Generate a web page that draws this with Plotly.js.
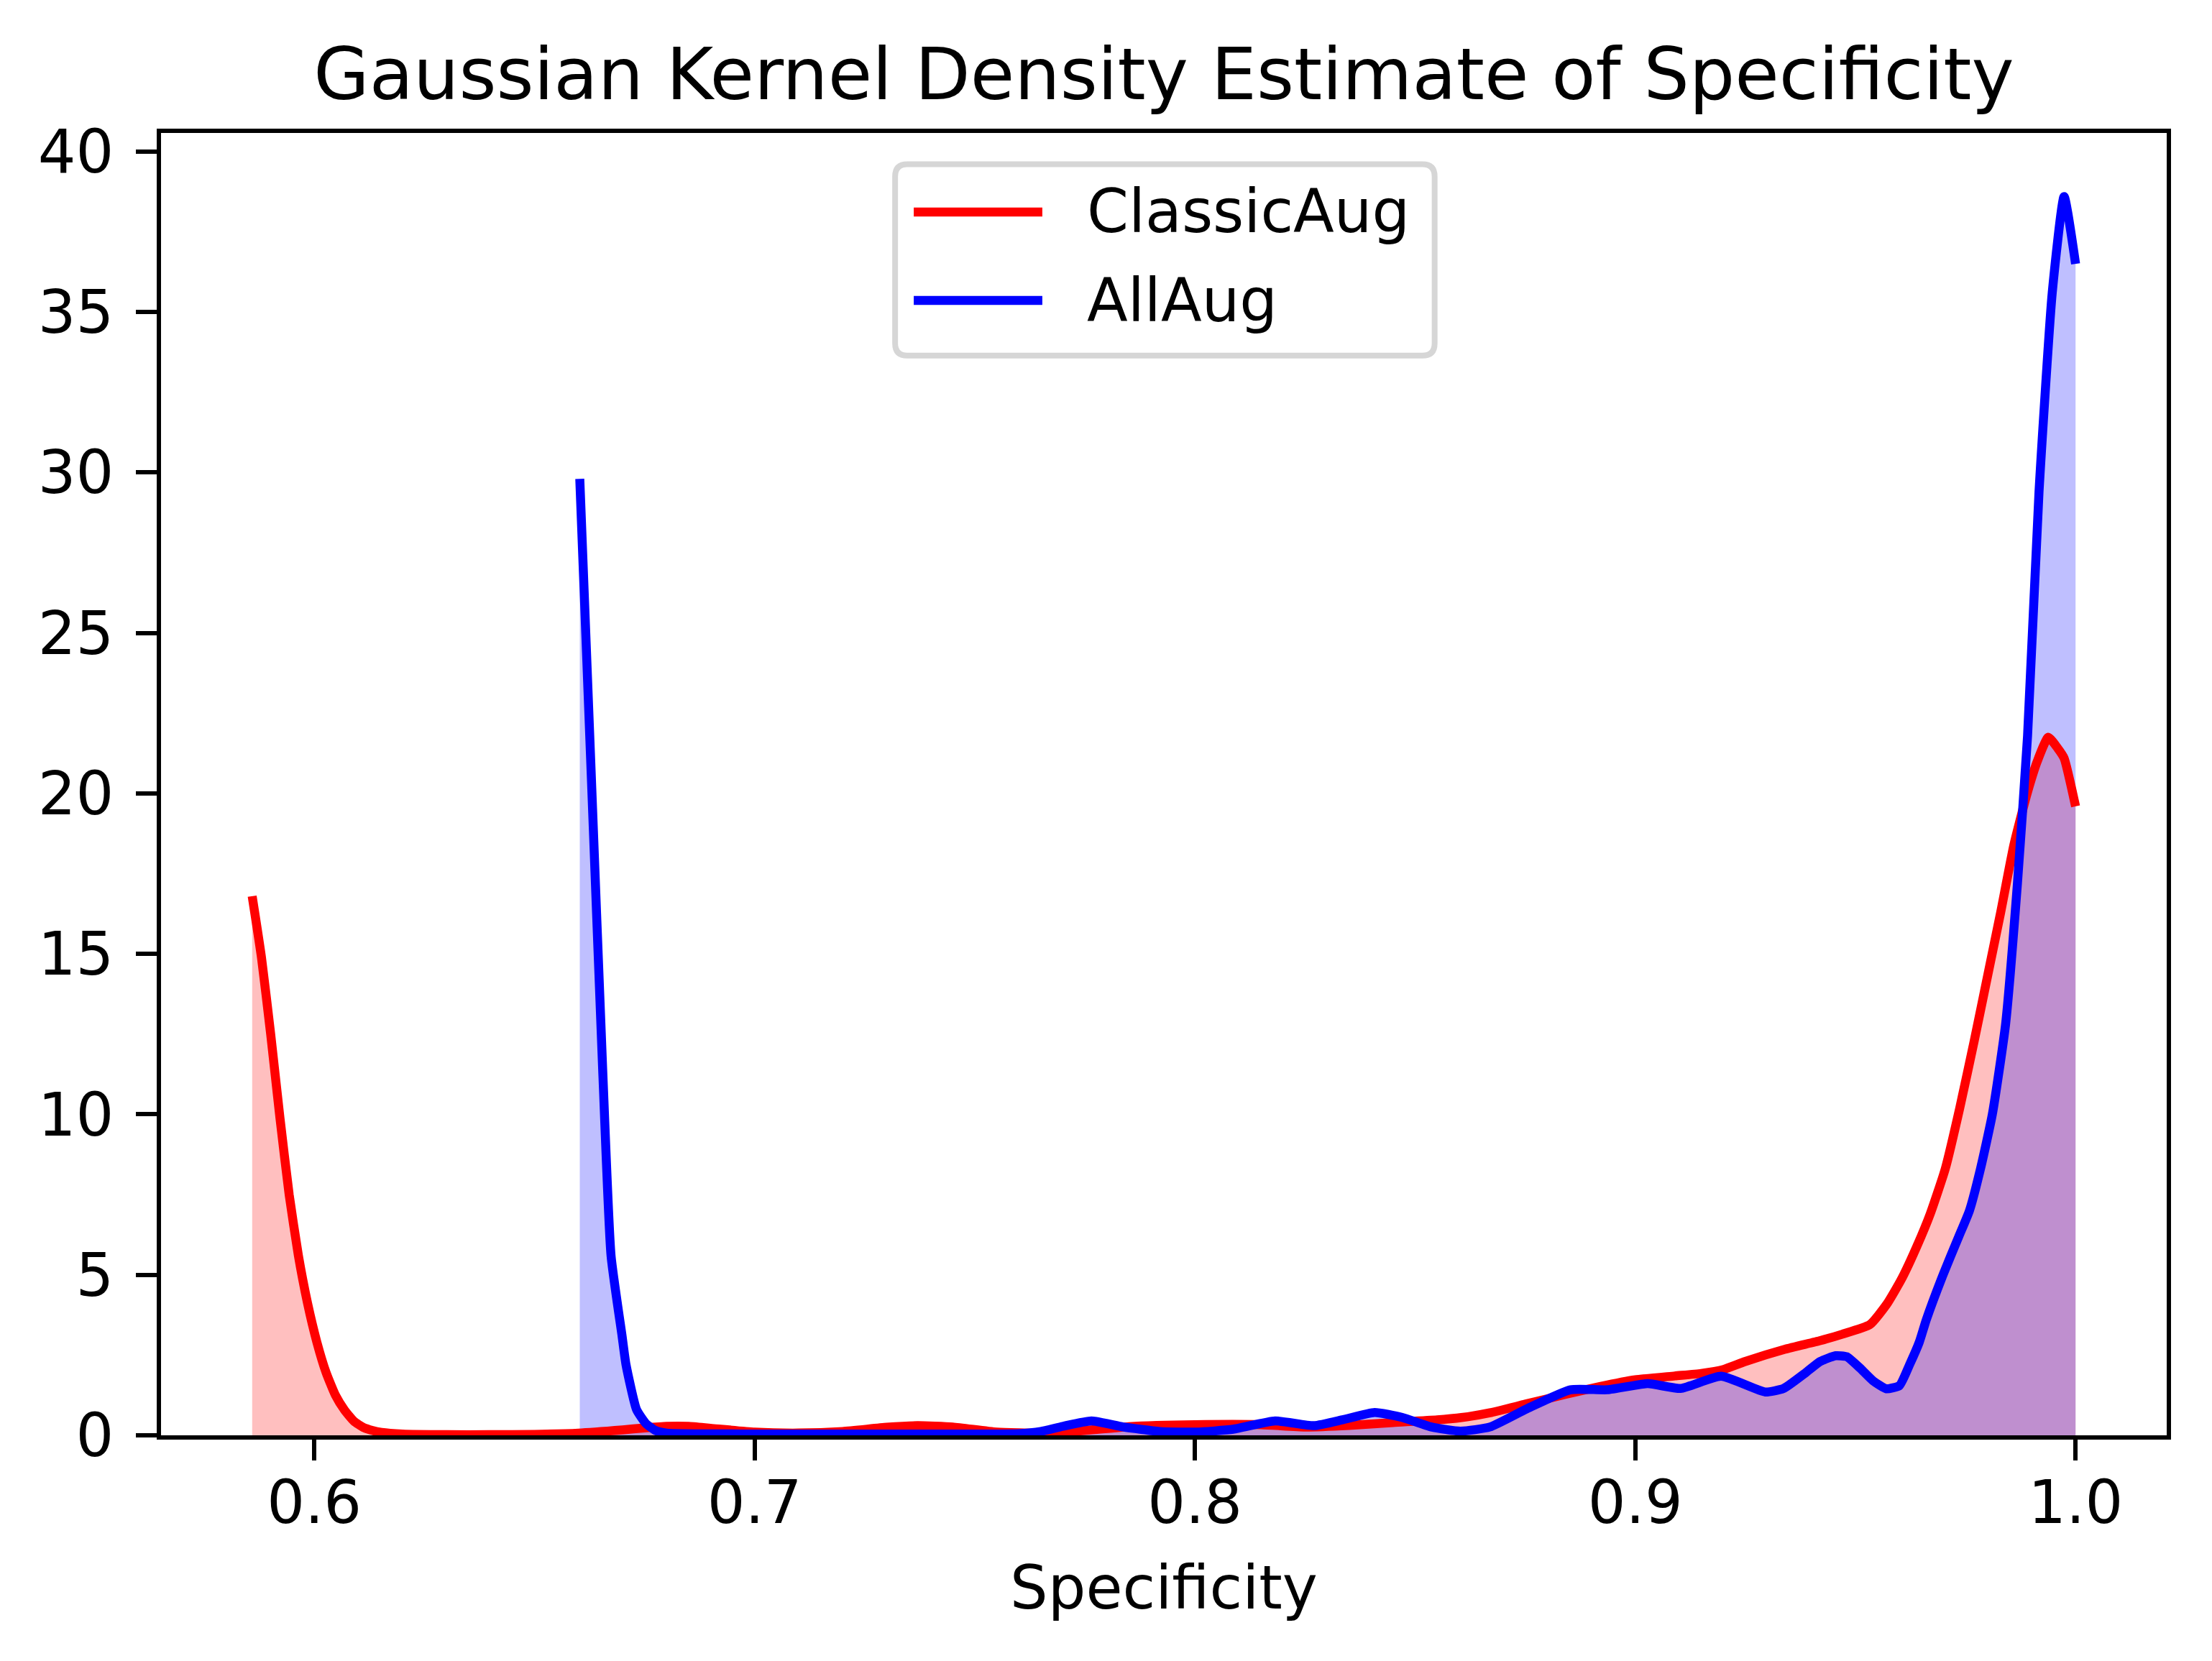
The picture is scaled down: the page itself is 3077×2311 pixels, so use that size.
<!DOCTYPE html>
<html>
<head>
<meta charset="utf-8">
<script src="https://cdn.plot.ly/plotly-3.0.1.min.js"></script>
<style>
  html, body { margin: 0; padding: 0; background: #fff; }
  #plot { width: 3077px; height: 2311px; }
</style>
</head>
<body>
<div id="plot"></div>
<script>
// ClassicAug KDE curve
const classicX = [
    0.5859, 0.5880, 0.5901, 0.5922, 0.5943, 0.5964, 0.5985, 0.6006, 0.6027, 0.6048,
    0.6069, 0.6090, 0.6111, 0.6132, 0.6153, 0.6200, 0.6300, 0.6400, 0.6500, 0.6600,
    0.6700, 0.6750, 0.6800, 0.6850, 0.6900, 0.7000, 0.7100, 0.7200, 0.7300, 0.7370,
    0.7450, 0.7550, 0.7650, 0.7750, 0.7850, 0.8000, 0.8150, 0.8250, 0.8350, 0.8450,
    0.8550, 0.8620, 0.8670, 0.8750, 0.8840, 0.8920, 0.9000, 0.9090, 0.9150, 0.9200,
    0.9250, 0.9340, 0.9420, 0.9470, 0.9533, 0.9572, 0.9606, 0.9640, 0.9670, 0.9704,
    0.9737, 0.9770, 0.9800, 0.9830, 0.9860, 0.9890, 0.9913, 0.9938, 0.9960, 0.9974,
    1.0000
];
const classicY = [
    16.8, 14.9, 12.5, 9.9, 7.5, 5.6, 4.1, 2.9, 1.95, 1.25,
    0.78, 0.44, 0.25, 0.15, 0.09, 0.04, 0.02, 0.02, 0.03, 0.07,
    0.17, 0.23, 0.28, 0.28, 0.22, 0.1, 0.07, 0.12, 0.25, 0.3,
    0.26, 0.1, 0.07, 0.15, 0.27, 0.33, 0.33, 0.26, 0.31, 0.4,
    0.48, 0.58, 0.7, 0.97, 1.27, 1.52, 1.73, 1.85, 1.93, 2.05,
    2.3, 2.68, 2.95, 3.15, 3.45, 4.1, 4.9, 5.9, 6.9, 8.3,
    10.2, 12.3, 14.3, 16.3, 18.4, 20.0, 21.0, 21.75, 21.4, 21.1,
    19.6
];

// AllAug KDE curve
const allX = [
    0.6603, 0.6629, 0.6655, 0.6674, 0.6699, 0.6708, 0.6732, 0.6753, 0.6775, 0.6800,
    0.7000, 0.7300, 0.7600, 0.7650, 0.7700, 0.7765, 0.7837, 0.7920, 0.8003, 0.8087,
    0.8182, 0.8270, 0.8337, 0.8408, 0.8470, 0.8537, 0.8603, 0.8670, 0.8753, 0.8853,
    0.8937, 0.9028, 0.9103, 0.9195, 0.9295, 0.9337, 0.9387, 0.9420, 0.9455, 0.9480,
    0.9510, 0.9540, 0.9570, 0.9600, 0.9623, 0.9645, 0.9661, 0.9699, 0.9735, 0.9759,
    0.9784, 0.9811, 0.9841, 0.9868, 0.9891, 0.9917, 0.9947, 0.9974, 1.0000
];
const allY = [
    29.8, 20.6, 11.4, 5.6, 3.1, 2.2, 0.8, 0.37, 0.15, 0.07,
    0.04, 0.04, 0.05, 0.12, 0.28, 0.45, 0.26, 0.12, 0.1, 0.19,
    0.45, 0.3, 0.49, 0.71, 0.56, 0.26, 0.13, 0.26, 0.82, 1.42,
    1.42, 1.61, 1.46, 1.84, 1.35, 1.46, 1.95, 2.3, 2.48, 2.45,
    2.1, 1.7, 1.45, 1.55, 2.2, 2.9, 3.6, 5.0, 6.2, 7.0,
    8.3, 10.0, 12.8, 17.2, 21.8, 29.4, 35.6, 38.6, 36.5
];

const seriesNames = ['ClassicAug', 'AllAug'];
const xTicks = [0.6, 0.7, 0.8, 0.9, 1.0];
const xTickText = ['0.6', '0.7', '0.8', '0.9', '1.0'];
const yTicks = [0, 5, 10, 15, 20, 25, 30, 35, 40];

const FONT = 'DejaVu Sans, sans-serif';
const RED = '#ff0000';
const BLUE = '#0000ff';
const LW = 12.5;

function fillTrace(x, y, color) {
    return {
        x, y,
        type: 'scatter',
        mode: 'lines',
        fill: 'tozeroy',
        fillcolor: color,
        line: {width: 0, shape: 'spline', smoothing: 0.5},
        showlegend: false,
        hoverinfo: 'skip'
    };
}

function lineTrace(x, y, color, name) {
    return {
        x, y, name,
        type: 'scatter',
        mode: 'lines',
        line: {color, width: LW, shape: 'spline', smoothing: 0.5},
        showlegend: false
    };
}

// fills first, lines on top (like matplotlib's zorder)
const traces = [
    fillTrace(classicX, classicY, 'rgba(255,0,0,0.25)'),
    fillTrace(allX, allY, 'rgba(0,0,255,0.25)'),
    lineTrace(classicX, classicY, RED, seriesNames[0]),
    lineTrace(allX, allY, BLUE, seriesNames[1])
];

// hand-made legend box with rounded corners
function roundedBox(x0, y0, x1, y1, rx, ry) {
    return `M${x0 + rx},${y0} L${x1 - rx},${y0} Q${x1},${y0} ${x1},${y0 + ry} ` +
        `L${x1},${y1 - ry} Q${x1},${y1} ${x1 - rx},${y1} L${x0 + rx},${y1} ` +
        `Q${x0},${y1} ${x0},${y1 - ry} L${x0},${y0 + ry} Q${x0},${y0} ${x0 + rx},${y0} Z`;
}

const legY = [0.9393, 0.8714];
const legColors = [RED, BLUE];

const shapes = [{
    type: 'path', xref: 'paper', yref: 'paper',
    path: roundedBox(0.366, 0.829, 0.635, 0.976, 0.0061, 0.0094),
    fillcolor: 'rgba(255,255,255,0.8)',
    line: {color: '#d6d6d6', width: 8}
}];
const annotations = [];
seriesNames.forEach((n, i) => {
    shapes.push({
        type: 'line', xref: 'paper', yref: 'paper',
        x0: 0.3753, x1: 0.4394, y0: legY[i], y1: legY[i],
        line: {color: legColors[i], width: LW}
    });
    annotations.push({
        xref: 'paper', yref: 'paper', x: 0.461, y: legY[i],
        xanchor: 'left', yanchor: 'middle', showarrow: false,
        text: n, font: {family: FONT, size: 83, color: '#000'}
    });
});

const axisCommon = {
    showgrid: false,
    zeroline: false,
    showline: true,
    linecolor: '#000',
    linewidth: 6,
    mirror: true,
    ticks: 'outside',
    ticklen: 29,
    tickwidth: 6,
    tickcolor: '#000',
    tickfont: {family: FONT, size: 83, color: '#000'}
};

const layout = {
    width: 3077,
    height: 2311,
    margin: {l: 224, r: 63, t: 185, b: 314, pad: 0},
    paper_bgcolor: '#fff',
    plot_bgcolor: '#fff',
    font: {family: FONT, color: '#000'},
    showlegend: false,
    title: {
        text: 'Gaussian Kernel Density Estimate of Specificity',
        font: {family: FONT, size: 100, color: '#000'},
        xref: 'paper', x: 0.5, xanchor: 'center',
        yref: 'container', y: 0.9403, yanchor: 'bottom'
    },
    xaxis: Object.assign({}, axisCommon, {
        range: [0.5652, 1.0207],
        tickvals: xTicks,
        ticktext: xTickText,
        ticklabelstandoff: -13,
        title: {text: 'Specificity', font: {family: FONT, size: 83, color: '#000'}, standoff: 44}
    }),
    yaxis: Object.assign({}, axisCommon, {
        range: [0, 40.58],
        tickvals: yTicks,
        ticklabelstandoff: 14
    }),
    shapes,
    annotations
};

Plotly.newPlot('plot', traces, layout, {staticPlot: true, displayModeBar: false});
</script>
</body>
</html>
